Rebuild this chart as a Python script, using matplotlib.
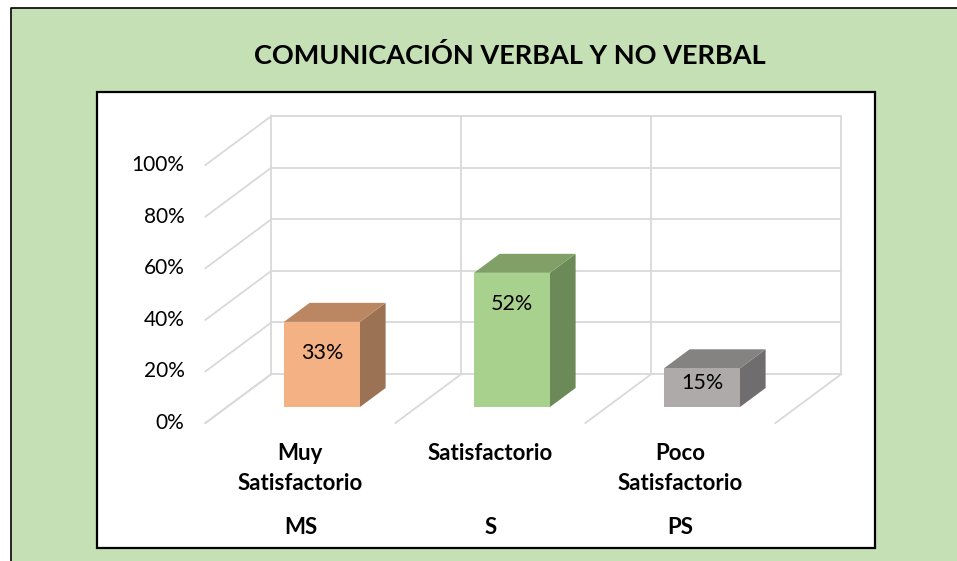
import matplotlib.pyplot as plt
from matplotlib.patches import Polygon, Rectangle

# data
categorias = ['Muy\nSatisfactorio', 'Satisfactorio', 'Poco\nSatisfactorio']
siglas = ['MS', 'S', 'PS']
valores = [33, 52, 15]
etiquetas = ['33%', '52%', '15%']
ticks_y = [0, 20, 40, 60, 80, 100]
ticks_lbl = ['0%', '20%', '40%', '60%', '80%', '100%']

col_frente = ['#F4B183', '#A9D18E', '#AEAAAA']
col_arriba = ['#BA8762', '#80A068', '#858282']
col_lado = ['#9C7254', '#6C8A57', '#6F6D6D']

W, H = 957, 561
fig = plt.figure(figsize=(W / 100, H / 100), dpi=100)
fig.patch.set_facecolor('white')
plt.rcParams['font.family'] = ['Lato', 'DejaVu Sans']

# escala: 1 categoria = 190 px, 1% = 2.58 px
sx, sy = 190.0, 2.58
x0px, y0px = 322.0, 407.0
ax = fig.add_axes([0, 0, 1, 1])
ax.set_xlim(-x0px / sx, (W - x0px) / sx)
ax.set_ylim(-(H - y0px) / sy, y0px / sy)
ax.axis('off')

# profundidad oblicua
kx, ky = 66.0 / sx, 49.0 / sy
d_front, d_back = -0.327, 0.673
d_bar = 0.388


def P(x, v, d):
    return (x + kx * d, v + ky * d)


def ypix(py):
    # fila de pixel -> valor en eje y
    return (y0px - py) / sy


# fondo verde y recuadro
tf = fig.transFigure
ax.add_patch(Rectangle((12 / W, 0), 1, (H - 8) / H, transform=tf,
                       facecolor='#C5E0B4', edgecolor='none', zorder=-5))
ax.plot([11 / W, 11 / W, 1], [0, (H - 7.5) / H, (H - 7.5) / H], transform=tf,
        color='black', lw=1.2, zorder=-4)
ax.add_patch(Rectangle((97 / W, (H - 548) / H), (875 - 97) / W, (548 - 92) / H,
                       transform=tf, facecolor='white', edgecolor='black',
                       lw=1.6, zorder=-3))

ax.text(510 / W, 1 - 56 / H, 'COMUNICACIÓN VERBAL Y NO VERBAL', transform=tf,
        ha='center', va='center', fontsize=19.5, fontweight='bold', color='black')

# rejilla
gc, glw = '#D9D9D9', 1.3
xl, xr = -0.5, len(valores) - 0.5
for t in ticks_y:
    a, b = P(xl, t, d_back), P(xr, t, d_back)
    ax.plot([a[0], b[0]], [a[1], b[1]], color=gc, lw=glw, zorder=1)
    c = P(xl, t, d_front)
    ax.plot([c[0], a[0]], [c[1], a[1]], color=gc, lw=glw, zorder=1)
for k in range(len(valores) + 1):
    xv = xl + k
    a, b = P(xv, 0, d_back), P(xv, ticks_y[-1], d_back)
    ax.plot([a[0], b[0]], [a[1], b[1]], color=gc, lw=glw, zorder=1)
    c = P(xv, 0, d_front)
    ax.plot([c[0], a[0]], [c[1], a[1]], color=gc, lw=glw, zorder=1)

for t, s in zip(ticks_y, ticks_lbl):
    c = P(xl, t, d_front)
    ax.text(c[0] - 21 / sx, c[1], s, ha='right', va='center', fontsize=15,
            color='black')

# barras 3D
hw = 0.2
for i, v in enumerate(valores):
    l, r = i - hw, i + hw
    frente = [P(l, 0, 0), P(r, 0, 0), P(r, v, 0), P(l, v, 0)]
    lado = [P(r, 0, 0), P(r, 0, d_bar), P(r, v, d_bar), P(r, v, 0)]
    arriba = [P(l, v, 0), P(r, v, 0), P(r, v, d_bar), P(l, v, d_bar)]
    ax.add_patch(Polygon(lado, closed=True, facecolor=col_lado[i], edgecolor='none', zorder=3))
    ax.add_patch(Polygon(arriba, closed=True, facecolor=col_arriba[i], edgecolor='none', zorder=3))
    ax.add_patch(Polygon(frente, closed=True, facecolor=col_frente[i], edgecolor='none', zorder=4))
    ax.text(i, v - min(12, 0.37 * v), etiquetas[i], ha='center', va='center',
            fontsize=15.5, color='black', zorder=5)

# etiquetas de categoria
for i, (c, s) in enumerate(zip(categorias, siglas)):
    p = P(i, 0, d_front)
    for k, linea in enumerate(c.split('\n')):
        ax.text(p[0], ypix(453 + 30 * k), linea, ha='center', va='center',
                fontsize=16, fontweight='bold')
    ax.text(p[0], ypix(528), s, ha='center', va='center', fontsize=16,
            fontweight='bold')

fig.savefig('out.png', dpi=100)
